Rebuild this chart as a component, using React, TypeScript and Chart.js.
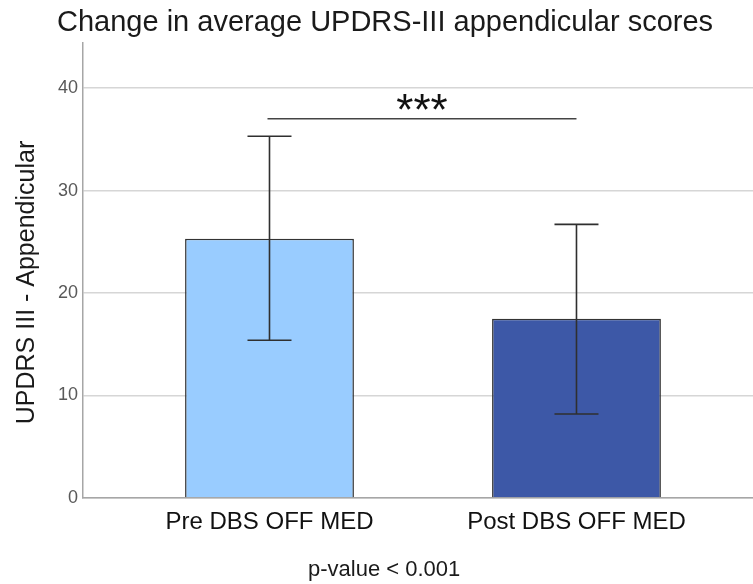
import React, { useEffect, useRef } from "react";
import { Chart, registerables } from "chart.js";

Chart.register(...registerables);

// ---- data ----
const categories = ["Pre DBS OFF MED", "Post DBS OFF MED"];
const means = [25.3, 17.5];
const errorLow = [15.4, 8.2];
const errorHigh = [35.3, 26.7];
const barColors = ["#99CCFF", "#3D58A7"];
const yTickValues = [0, 10, 20, 30, 40];
const yMax = 44.4;
const xMin = 0.3925;
const xMax = 2.575;
const sigFromIndex = 0;
const sigToIndex = 1;
const sigValue = 37.0;
const sigLabel = "***";

const titleText = "Change in average UPDRS-III appendicular scores";
const yAxisTitle = "UPDRS III - Appendicular";
const pValueText = "p-value < 0.001";

const FONT = "'Liberation Sans', Arial, sans-serif";

const annotationPlugin = {
  id: "annotations",
  afterDatasetsDraw(chart: any) {
    const ctx = chart.ctx;
    const xs = chart.scales.x;
    const ys = chart.scales.y;
    ctx.save();
    // error bars
    ctx.strokeStyle = "#2f2f2f";
    ctx.lineWidth = 1.6;
    const capHalf = 22;
    for (let i = 0; i < means.length; i++) {
      const cx = xs.getPixelForValue(i + 1);
      const yTop = ys.getPixelForValue(errorHigh[i]);
      const yBot = ys.getPixelForValue(errorLow[i]);
      ctx.beginPath();
      ctx.moveTo(cx, yTop);
      ctx.lineTo(cx, yBot);
      ctx.moveTo(cx - capHalf, yTop);
      ctx.lineTo(cx + capHalf, yTop);
      ctx.moveTo(cx - capHalf, yBot);
      ctx.lineTo(cx + capHalf, yBot);
      ctx.stroke();
    }
    // significance line
    const x1 = xs.getPixelForValue(sigFromIndex + 1) - 2;
    const x2 = xs.getPixelForValue(sigToIndex + 1);
    const sy = ys.getPixelForValue(sigValue);
    ctx.strokeStyle = "#444";
    ctx.lineWidth = 1.5;
    ctx.beginPath();
    ctx.moveTo(x1, sy);
    ctx.lineTo(x2, sy);
    ctx.stroke();
    ctx.fillStyle = "#111";
    ctx.font = `44px ${FONT}`;
    ctx.textAlign = "center";
    ctx.textBaseline = "alphabetic";
    ctx.fillText(sigLabel, (x1 + x2) / 2, sy + 6);
    ctx.restore();
  },
  afterDraw(chart: any) {
    const ctx = chart.ctx;
    ctx.save();
    // title
    ctx.fillStyle = "#1a1a1a";
    ctx.font = `29px ${FONT}`;
    ctx.textAlign = "left";
    ctx.textBaseline = "alphabetic";
    ctx.fillText(titleText, 57, 31);
    // y axis title
    ctx.save();
    ctx.translate(34, (chart.chartArea.top + chart.chartArea.bottom) / 2 + 12);
    ctx.rotate(-Math.PI / 2);
    ctx.font = `25px ${FONT}`;
    ctx.textAlign = "center";
    ctx.fillText(yAxisTitle, 0, 0);
    ctx.restore();
    // p-value note
    ctx.font = `22px ${FONT}`;
    ctx.textAlign = "left";
    ctx.fillText(pValueText, 308, 576);
    ctx.restore();
  },
};

export default function App() {
  const canvasRef = useRef<HTMLCanvasElement | null>(null);

  useEffect(() => {
    if (!canvasRef.current) return;
    const chart = new Chart(canvasRef.current, {
      type: "bar",
      data: {
        datasets: [
          {
            data: means.map((m, i) => ({ x: i + 1, y: m })),
            backgroundColor: barColors,
            borderColor: "#333333",
            borderWidth: 1.5,
            barPercentage: 0.55,
            categoryPercentage: 1,
          },
        ],
      },
      options: {
        responsive: false,
        animation: false,
        devicePixelRatio: 1,
        layout: { padding: { top: 43, left: 0, right: 0, bottom: 0 } },
        plugins: {
          legend: { display: false },
          tooltip: { enabled: false },
          title: { display: false },
        },
        scales: {
          x: {
            type: "linear",
            min: xMin,
            max: xMax,
            offset: false,
            grid: { display: false },
            border: { display: true, color: "#a6a6a6", width: 1.5 },
            afterBuildTicks: (axis: any) => {
              axis.ticks = categories.map((_, i) => ({ value: i + 1 }));
            },
            afterFit: (axis: any) => {
              axis.height = 86;
            },
            ticks: {
              autoSkip: false,
              maxRotation: 0,
              padding: 2,
              color: "#111",
              font: { family: FONT, size: 24 },
              callback: (v: any) => categories[Math.round(Number(v)) - 1] ?? "",
            },
          },
          y: {
            type: "linear",
            min: 0,
            max: yMax,
            grid: { color: "#d6d6d6", lineWidth: 1.5, drawTicks: false },
            border: { display: true, color: "#a6a6a6", width: 1.5 },
            afterBuildTicks: (axis: any) => {
              axis.ticks = yTickValues.map((v) => ({ value: v }));
            },
            afterFit: (axis: any) => {
              axis.width = 83;
            },
            ticks: {
              padding: 5,
              color: "#595959",
              font: { family: FONT, size: 18 },
            },
          },
        },
      },
      plugins: [annotationPlugin],
    });
    return () => chart.destroy();
  }, []);

  return (
    <div style={{ position: "absolute", left: 0, top: 0, width: 753, height: 584, background: "#fff" }}>
      <canvas ref={canvasRef} width={753} height={584} />
    </div>
  );
}
